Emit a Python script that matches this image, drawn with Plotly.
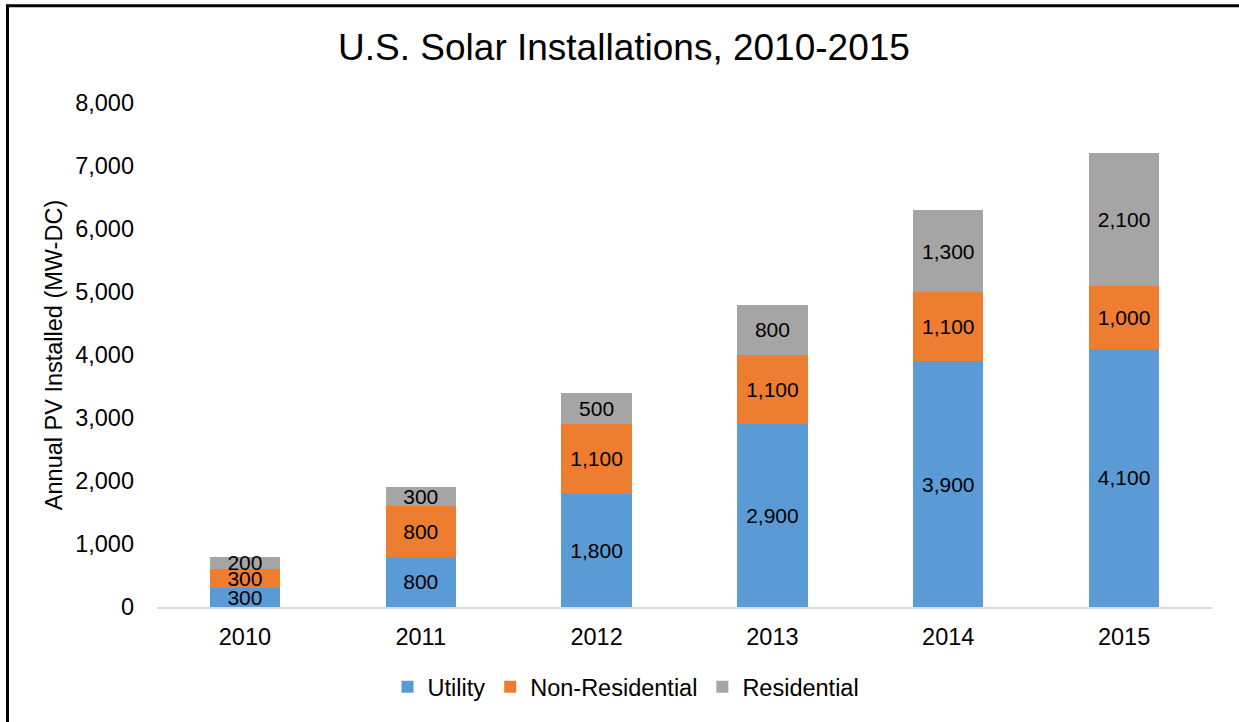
import plotly.graph_objects as go

years = ["2010", "2011", "2012", "2013", "2014", "2015"]
utility = [300, 800, 1800, 2900, 3900, 4100]
non_residential = [300, 800, 1100, 1100, 1100, 1000]
residential = [200, 300, 500, 800, 1300, 2100]
y_ticks = [0, 1000, 2000, 3000, 4000, 5000, 6000, 7000, 8000]

series = [
    ("Utility", utility, "#5B9BD5"),
    ("Non-Residential", non_residential, "#ED7D31"),
    ("Residential", residential, "#A5A5A5"),
]

FONT = "Liberation Sans, Arial, sans-serif"

fig = go.Figure()
for name, vals, color in series:
    fig.add_trace(go.Bar(
        x=years, y=vals, name=name,
        marker=dict(color=color, line=dict(width=0)),
        text=[f"{v:,}" for v in vals],
        textposition="inside",
        insidetextanchor="middle",
        constraintext="none",
        textfont=dict(family=FONT, size=21, color="black"),
        cliponaxis=False,
    ))

# body margin is removed by post_script below, so the figure sits at 0,0
OFF = 0
W, H = 1239, 722
# desired plot area in page pixels
PL, PR, PT, PB = 157, 1212, 103, 607
ml = PL - OFF
mr = W + OFF - PR
mt = PT - OFF
mb = H + OFF - PB
pw = PR - PL
ph = PB - PT

def px_x(x):
    return (x - PL) / pw

def px_y(y):
    return (PB - y) / ph

fig.update_layout(
    width=W, height=H, autosize=False,
    margin=dict(l=ml, r=mr, t=mt, b=mb),
    barmode="stack",
    bargap=0.6,
    plot_bgcolor="white",
    paper_bgcolor="white",
    font=dict(family=FONT, size=23, color="black"),
    title=dict(
        text="U.S. Solar Installations, 2010-2015",
        x=(624 - OFF) / W, xanchor="center", xref="container",
        y=1 - (47 - OFF) / H, yanchor="middle", yref="container",
        font=dict(family=FONT, size=37, color="black"),
    ),
    xaxis=dict(
        showgrid=False, showline=True, linecolor="#D9D9D9", linewidth=2,
        ticks="", ticklabelstandoff=8,
        tickfont=dict(family=FONT, size=23.5, color="black"),
    ),
    yaxis=dict(
        range=[0, 8000], tickvals=y_ticks, tickformat=",",
        showgrid=False, showline=False, zeroline=False,
        ticks="", ticklabelstandoff=22,
        tickfont=dict(family=FONT, size=23.5, color="black"),
        title=dict(text="Annual PV Installed (MW-DC)", standoff=5,
                   font=dict(family=FONT, size=23.5, color="black")),
    ),
    legend=dict(
        orientation="h", x=px_x(626), xanchor="center",
        y=px_y(687), yanchor="middle",
        font=dict(family=FONT, size=23.5, color="black"),
        traceorder="normal", itemwidth=30,
    ),
    showlegend=True,
    shapes=[dict(
        type="rect", xref="paper", yref="paper",
        x0=px_x(7.5), x1=px_x(1300), y0=px_y(800), y1=px_y(5.7),
        line=dict(color="black", width=3), fillcolor="rgba(0,0,0,0)",
        layer="above",
    )],
)

fig.write_html(
    "out.html",
    config={"displayModeBar": False},
    post_script="document.body.style.margin='0';document.body.style.padding='0';",
)
